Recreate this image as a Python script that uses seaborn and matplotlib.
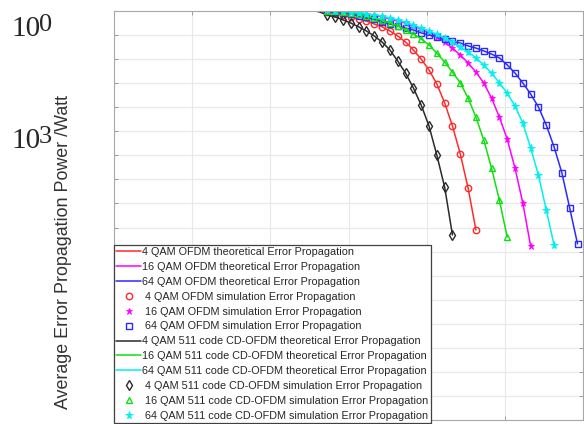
import matplotlib
matplotlib.use("Agg")
import matplotlib.pyplot as plt
import seaborn as sns
import pandas as pd

# ---------------- data ----------------
snr = [25.3, 26.3, 27.3, 28.3, 29.3, 30.3, 31.3, 32.3, 33.3, 34.3,
       35.3, 36.3, 37.3, 38.3, 39.3, 40.3, 41.3, 42.3, 43.3, 44.3,
       45.3, 46.3, 47.3, 48.3, 49.3, 50.3, 51.3, 52.3, 53.3, 54.3,
       55.3, 56.3, 57.3, 58.3, 59.3]

qam4_ofdm = [0.4, 0.0, -0.4, -0.8, -1.7, -2.5, -3.3, -4.2, -5.4, -6.6,
             -8.3, -10.4, -12.9, -16.2, -20.0, -24.5, -30.3, -38.2, -47.8, -59.4,
             -73.6, -91.0]
qam16_ofdm = [0.6, 0.4, 0.2, 0.0, -0.2, -0.4, -0.8, -1.2, -1.7, -2.5,
              -3.3, -4.2, -5.0, -6.2, -7.5, -9.1, -10.8, -12.9, -15.4, -18.3,
              -21.6, -25.4, -29.9, -36.2, -44.1, -53.2, -65.3, -79.8, -97.7]
qam64_ofdm = [0.4, 0.2, 0.0, -0.4, -0.8, -1.2, -2.1, -2.7, -3.5, -4.6,
              -5.4, -6.2, -7.1, -7.9, -9.1, -10.0, -10.8, -11.6, -12.5, -13.3,
              -14.5, -15.4, -16.6, -17.9, -19.5, -22.4, -25.8, -29.9, -34.5, -39.9,
              -47.4, -56.5, -67.3, -81.9, -96.8]
qam4_cd = [0.4, -0.4, -1.7, -2.5, -3.7, -5.0, -6.6, -8.3, -10.4, -12.9,
           -16.2, -20.8, -25.8, -32.0, -39.1, -47.8, -59.9, -73.2, -93.1]
qam16_cd = [0.8, 0.4, 0.2, 0.0, -0.4, -0.8, -1.2, -2.1, -2.9, -3.7,
            -5.0, -6.2, -7.9, -9.6, -11.6, -14.1, -17.5, -21.2, -25.4, -29.9,
            -36.2, -44.1, -53.6, -65.3, -78.6, -93.9]
qam64_cd = [0.8, 0.6, 0.4, 0.2, 0.0, -0.4, -0.8, -1.2, -1.7, -2.1,
            -2.9, -3.7, -4.6, -5.8, -7.1, -8.3, -9.6, -11.2, -12.9, -15.0,
            -17.0, -19.5, -22.4, -25.8, -29.9, -34.1, -39.5, -46.6, -56.9, -68.2,
            -82.7, -97.3]

labels_theory = ["4 QAM OFDM theoretical Error Propagation",
                 "16 QAM OFDM theoretical Error Propagation",
                 "64 QAM OFDM theoretical Error Propagation"]
labels_sim = [" 4 QAM OFDM simulation Error Propagation",
              " 16 QAM OFDM simulation Error Propagation",
              " 64 QAM OFDM simulation Error Propagation"]
labels_cd_theory = ["4 QAM 511 code CD-OFDM theoretical Error Propagation",
                    "16 QAM 511 code CD-OFDM theoretical Error Propagation",
                    "64 QAM 511 code CD-OFDM theoretical Error Propagation"]
labels_cd_sim = [" 4 QAM 511 code CD-OFDM simulation Error Propagation",
                 " 16 QAM 511 code CD-OFDM simulation Error Propagation",
                 " 64 QAM 511 code CD-OFDM simulation Error Propagation"]
ylabel = "Average Error Propagation Power /Watt"
ytick_text = [("10", "0"), ("10", "3")]

# ---------------- style ----------------
sns.set_style("white")
plt.rcParams["font.family"] = ["Liberation Sans", "DejaVu Sans"]

fig = plt.figure(figsize=(5.84, 4.24), dpi=100)
ax = fig.add_axes([114 / 584, 4 / 424, 469 / 584, 409 / 424])

groups = [
    (qam4_ofdm, "#ff2a2a", "o", labels_theory[0], labels_sim[0], dict(mfc="none", ms=4.6, mew=1.0)),
    (qam16_ofdm, "#ff00ff", "*", labels_theory[1], labels_sim[1], dict(mfc="#ff00ff", ms=5.0, mew=0.6)),
    (qam64_ofdm, "#2a2aff", "s", labels_theory[2], labels_sim[2], dict(mfc="none", ms=4.2, mew=1.0)),
    (qam4_cd, "#2a2a2a", "d", labels_cd_theory[0], labels_cd_sim[0], dict(mfc="none", ms=4.6, mew=1.0)),
    (qam16_cd, "#10e010", "^", labels_cd_theory[1], labels_cd_sim[1], dict(mfc="none", ms=4.6, mew=1.0)),
    (qam64_cd, "#00f0f0", "*", labels_cd_theory[2], labels_cd_sim[2], dict(mfc="#00f0f0", ms=5.8, mew=0.6)),
]

line_h, sim_h = [], []
for vals, col, mk, lt, ls_, mkw in groups:
    df = pd.DataFrame({"snr": snr[:len(vals)], "p": vals})
    sns.lineplot(data=df, x="snr", y="p", color=col, lw=1.1, sort=False,
                 estimator=None, ax=ax, label=lt)
    line_h.append(ax.lines[-1])
    sns.lineplot(data=df.iloc[2:], x="snr", y="p", color=col, lw=0, marker=mk,
                 mec=col, linestyle="none", sort=False, estimator=None, ax=ax,
                 label=ls_, **mkw)
    sim_h.append(ax.lines[-1])

ax.set_xlim(0, 60)
ax.set_ylim(-170, 0)
ax.set_xticks(range(0, 61, 10))
ax.set_yticks(range(-170, 1, 10))
ax.set_xticklabels([])
ax.set_yticklabels([])
ax.set_xlabel("")
ax.set_ylabel("")
ax.grid(True, color="#e8e8e8", lw=0.8)
ax.tick_params(direction="in", length=3, color="#909090", top=True, right=True,
               bottom=True, left=True, width=0.6)
for s in ax.spines.values():
    s.set_color("#a8a8a8")
    s.set_linewidth(0.8)

handles = line_h[:3] + sim_h[:3] + line_h[3:] + sim_h[3:]
leg = ax.legend(handles=handles, loc="upper left", bbox_to_anchor=(0.0, 0.428),
                borderaxespad=0, fontsize=7.8, frameon=True, fancybox=False,
                framealpha=1, edgecolor="#404040", labelspacing=0.45,
                handlelength=2.3, handletextpad=0.1, borderpad=0.2)
leg.get_frame().set_linewidth(0.9)

fig.text(64 / 584, 1 - 252 / 424, ylabel, rotation=90, ha="center", va="center",
         fontsize=12.9, color="#333333")

for (base, sup), yb in zip(ytick_text, [36, 148]):
    fig.text(11 / 584, 1 - yb / 424, base, fontsize=21, family="Liberation Serif",
             ha="left", va="baseline")
    fig.text(39 / 584, 1 - (yb - 5) / 424, sup, fontsize=19, family="Liberation Serif",
             ha="left", va="baseline")

fig.savefig("out.png", dpi=100)
